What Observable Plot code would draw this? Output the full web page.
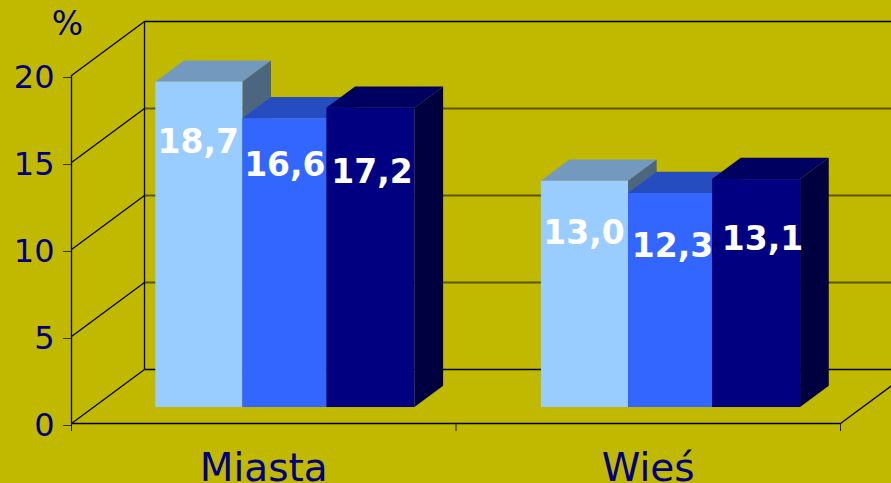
<!DOCTYPE html>
<html>
<head>
<meta charset="utf-8">
<script src="https://cdn.jsdelivr.net/npm/d3@7"></script>
<script src="https://cdn.jsdelivr.net/npm/@observablehq/plot@0.6"></script>
<style>
html,body{margin:0;padding:0;background:#c1b900;overflow:hidden}
svg{display:block}
</style>
</head>
<body>
<div id="chart"></div>
<script>
// Data
const categories = ["Miasta", "Wieś"];
const seriesA = [18.7, 13.0];
const seriesB = [16.6, 12.3];
const seriesC = [17.2, 13.1];
const valueTicks = [0, 5, 10, 15, 20];

// Styles
const bg = "#c1b900", ink = "#000080";
const faces = [
  {front: "#99ccff", top: "#7399bf", side: "#4d6680"},
  {front: "#3366ff", top: "#264dbf", side: "#1a3380"},
  {front: "#000080", top: "#000060", side: "#000040"}
];

// 3D projection: depth 0 = front plane, 1 = back wall (in data units)
const dU = 73 / 384.5, dV = 54 / 17.4;
const P = (u, v, d) => ({x: u + d * dU, y: v + d * dV});
const depthFront = 0.296, depthBack = 0.689;
const groupU = [0.5, 1.503];
const edges = [-0.337, -0.1106, 0.108, 0.337];
const labelDrop = [[60, 47, 64], [52, 53, 60]];
const labelShift = [[-1, 0, 1], [-1, 2, 6]];

const rows = [seriesA, seriesB, seriesC];
const barMarks = [];
categories.forEach((c, g) => {
  rows.forEach((vals, s) => {
    const v = vals[g], f = faces[s];
    const l = groupU[g] + edges[s], r = groupU[g] + edges[s + 1];
    const fl = P(l, 0, depthFront), fr = P(r, 0, depthFront);
    const dx = (depthBack - depthFront) * dU, dy = (depthBack - depthFront) * dV;
    const base = fl.y;
    // top face
    barMarks.push(Plot.areaX([
      {y: base + v, x1: fl.x, x2: fr.x},
      {y: base + v + dy, x1: fl.x + dx, x2: fr.x + dx}
    ], {y: "y", x1: "x1", x2: "x2", fill: f.top}));
    // side face
    barMarks.push(Plot.areaY([
      {x: fr.x, y1: base, y2: base + v},
      {x: fr.x + dx, y1: base + dy, y2: base + v + dy}
    ], {x: "x", y1: "y1", y2: "y2", fill: f.side}));
    // front face
    barMarks.push(Plot.rect([{}], {x1: () => fl.x, x2: () => fr.x, y1: () => base, y2: () => base + v, fill: f.front}));
  });
});
const labelMarks = [];
categories.forEach((c, g) => {
  rows.forEach((vals, s) => {
    const v = vals[g];
    const mid = (groupU[g] + (edges[s] + edges[s + 1]) / 2);
    const p = P(mid, v, depthFront);
    labelMarks.push(Plot.text([v.toFixed(1).replace(".", ",")], {
      x: () => p.x, y: () => p.y, text: d => d,
      dy: labelDrop[g][s], dx: labelShift[g][s],
      fill: "#ffffff", fontSize: 33, fontWeight: "bold", textAnchor: "middle"
    }));
  });
});

// Wall lines
const backLines = valueTicks.map(v => {
  const a = P(0, v, 0), b = P(0, v, 1), c = P(2, v, 1);
  return {v, a, b, c};
});
const lineColor = v => (v === 0 || v === 20) ? "#000000" : "#5a5500";

const chart = Plot.plot({
  width: 891, height: 483,
  marginLeft: 71, marginRight: 51, marginTop: 75, marginBottom: 60,
  x: {domain: [0, 2]},
  y: {domain: [0, 20]},
  style: {background: bg, fontFamily: "'DejaVu Sans', Verdana, sans-serif", overflow: "hidden"},
  marks: [
    // side wall diagonals
    Plot.link(backLines, {x1: d => d.a.x, y1: d => d.a.y, x2: d => d.b.x, y2: d => d.b.y, stroke: "#000000", strokeWidth: 1.3}),
    // back wall grid lines
    Plot.link(backLines, {x1: d => d.b.x, y1: d => d.b.y, x2: d => d.c.x, y2: d => d.c.y, stroke: d => lineColor(d.v), strokeWidth: d => (d.v === 0 || d.v === 20) ? 1.4 : 2}),
    // back wall vertical
    Plot.link([0], {x1: () => P(0, 0, 1).x, y1: () => P(0, 0, 1).y, x2: () => P(0, 20, 1).x, y2: () => P(0, 20, 1).y, stroke: "#000000", strokeWidth: 1.3}),
    // floor right edge
    Plot.link([0], {x1: () => P(2, 0, 0).x, y1: () => P(2, 0, 0).y, x2: () => P(2, 0, 1).x, y2: () => P(2, 0, 1).y, stroke: "#000000", strokeWidth: 1.3}),
    // front axes lines
    Plot.ruleX([0], {y1: 0, y2: 20, stroke: "#000000", strokeWidth: 1.3}),
    Plot.ruleY([0], {x1: 0, x2: 2, stroke: "#000000", strokeWidth: 1.3}),
    Plot.axisY({ticks: valueTicks, tickSize: 8, tickPadding: 9, fontSize: 32, dy: 2, fill: ink, stroke: "#3a3600", label: null, tickFormat: d => String(d)}),
    Plot.axisX({ticks: [0, 1, 2], tickSize: 8, tickFormat: () => "", stroke: "#1a1800", label: null}),
    Plot.axisX({ticks: [0.5, 1.5], tickSize: 0, tickPadding: 30, fontSize: 39, fill: ink, label: null, tickFormat: d => categories[Math.floor(d)]}),
    Plot.text(["%"], {x: () => -0.0104, y: () => 22.95, text: d => d, fill: ink, fontSize: 33}),
    ...barMarks,
    ...labelMarks
  ]
});
document.getElementById("chart").appendChild(chart);
</script>
</body>
</html>
